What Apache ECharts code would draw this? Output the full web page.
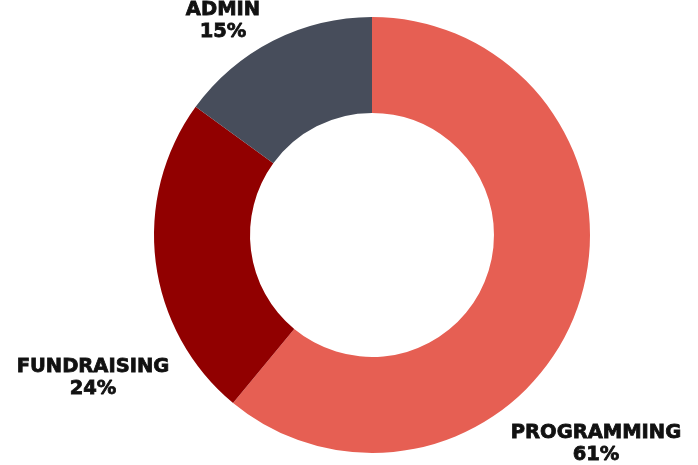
<!DOCTYPE html>
<html>
<head>
<meta charset="utf-8">
<script src="https://cdn.jsdelivr.net/npm/echarts@6/dist/echarts.min.js"></script>
<style>
  html, body { margin: 0; padding: 0; background: #fff; }
  #chart { width: 698px; height: 465px; }
</style>
</head>
<body>
<div id="chart"></div>
<script>
var categories = ['PROGRAMMING', 'FUNDRAISING', 'ADMIN'];
var shares = [61, 24, 15];
var colors = ['#e65f53', '#910000', '#474d5b'];

// where each label block sits (centre of the two lines)
var labelSpots = [[596, 444], [93, 378], [223, 21]];

var chart = echarts.init(document.getElementById('chart'));

var option = {
    animation: false,
    series: [
        {
            type: 'pie',
            center: [372, 235],
            radius: [122, 218],
            startAngle: 90,
            clockwise: true,
            data: categories.map(function (name, i) {
                return { name: name, value: shares[i], itemStyle: { color: colors[i] } };
            }),
            itemStyle: { borderWidth: 0 },
            label: {
                show: true,
                position: 'outside',
                alignTo: 'none',
                overflow: 'none',
                formatter: '{b}\n{c}%',
                color: '#111',
                textBorderColor: '#111',
                textBorderWidth: 0.8,
                fontFamily: 'DejaVu Sans',
                fontWeight: 'bold',
                fontSize: 19.5,
                lineHeight: 22,
                align: 'center'
            },
            labelLine: { show: false },
            labelLayout: function (params) {
                var p = labelSpots[params.dataIndex];
                return { x: p[0], y: p[1], align: 'center', verticalAlign: 'middle' };
            }
        }
    ]
};

chart.setOption(option);
window.addEventListener('resize', function () {
    chart.resize();
});
</script>
</body>
</html>
